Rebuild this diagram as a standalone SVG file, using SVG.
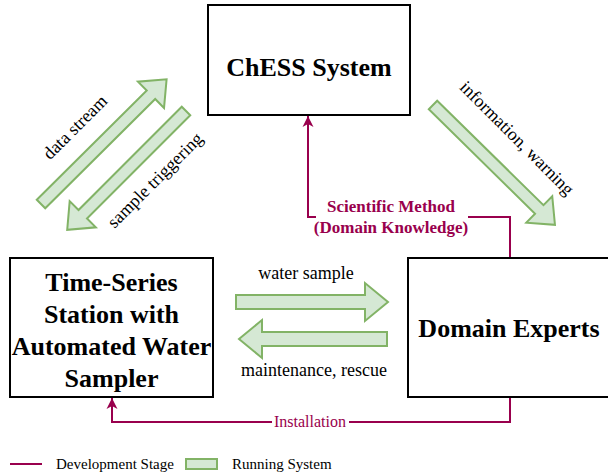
<svg xmlns="http://www.w3.org/2000/svg" width="608" height="476" viewBox="0 0 608 476">
<style>
.box{fill:#fff;stroke:#000;stroke-width:2}
.t{font-family:"Liberation Serif","Times New Roman",serif;fill:#000}
.b{font-weight:bold;font-size:26px;text-anchor:middle}
.lab{font-size:18px}
.pl{fill:none;stroke:#99004d;stroke-width:2}
.pt{font-family:"Liberation Serif","Times New Roman",serif;fill:#99004d;text-anchor:middle}
.ga{fill:#d5e8d4;stroke:#82b366;stroke-width:2;stroke-linejoin:miter}
</style>
<defs>
<marker id="ah" markerUnits="userSpaceOnUse" markerWidth="12" markerHeight="12" viewBox="0 0 12 12" refX="11" refY="6" orient="auto">
<path d="M0,0.5 L11,6 L0,11.5 L3,6 z" fill="#99004d"/>
</marker>
</defs>
<rect width="608" height="476" fill="#fff"/>

<g id="connectors">
<g id="dev-scientific">
<path class="pl" d="M510,258 V217 H308 V116" marker-end="url(#ah)"/>
<rect x="316" y="195" width="152" height="42" fill="#fff"/>
<text class="pt" x="391" y="212" font-size="17" font-weight="bold">Scientific Method</text>
<text class="pt" x="391" y="233" font-size="17" font-weight="bold">(Domain Knowledge)</text>
</g>
<g id="dev-installation">
<path class="pl" d="M510,397 V422 H112 V398" marker-end="url(#ah)"/>
<rect x="272" y="412" width="77" height="20" fill="#fff"/>
<text class="pt" x="310" y="427" font-size="16">Installation</text>
</g>
<g id="run-water-sample">
<polygon class="ga" points="236,295 365,295 365,283 388,302 365,321 365,309 236,309"/>
<text class="t lab" x="306" y="279" text-anchor="middle">water sample</text>
</g>
<g id="run-maintenance">
<polygon class="ga" points="387,332 262,332 262,320 239,339 262,358 262,346 387,346"/>
<text class="t lab" x="314" y="376" text-anchor="middle">maintenance, rescue</text>
</g>
<g id="run-data-stream">
<polygon class="ga" transform="translate(41,204) rotate(-44.8)" points="0,-6 155,-6 155,-18.5 177,0 155,18.5 155,6 0,6"/>
<text class="t lab" transform="translate(75,127) rotate(-45)" x="0" y="6" text-anchor="middle">data stream</text>
</g>
<g id="run-sample-triggering">
<polygon class="ga" transform="translate(186,111) rotate(135)" points="0,-6 146,-6 146,-18.5 168,0 146,18.5 146,6 0,6"/>
<text class="t lab" transform="translate(155,180) rotate(-45)" x="0" y="6" text-anchor="middle">sample triggering</text>
</g>
<g id="run-information">
<polygon class="ga" transform="translate(433,105) rotate(44.5)" points="0,-6 149,-6 149,-18.5 171,0 149,18.5 149,6 0,6"/>
<text class="t lab" transform="translate(517,138) rotate(45)" x="0" y="6" text-anchor="middle">information, warning</text>
</g>
</g>

<g id="chess">
<rect class="box" x="208" y="5" width="202" height="110"/>
<text class="t b" x="309" y="76">ChESS System</text>
</g>
<g id="station">
<rect class="box" x="10" y="258" width="203" height="139"/>
<text class="t b" x="111.5" y="291">Time-Series</text>
<text class="t b" x="111.5" y="323">Station with</text>
<text class="t b" x="111.5" y="355">Automated Water</text>
<text class="t b" x="111.5" y="387">Sampler</text>
</g>
<g id="experts">
<rect class="box" x="408" y="258" width="203" height="139"/>
<text class="t b" x="509" y="337">Domain Experts</text>
</g>

<g id="legend">
<line x1="10" y1="464" x2="42" y2="464" stroke="#99004d" stroke-width="2"/>
<text class="t" x="56" y="469" font-size="15">Development Stage</text>
<rect x="186" y="459" width="31" height="10" fill="#d5e8d4" stroke="#82b366" stroke-width="2"/>
<text class="t" x="232" y="469" font-size="15">Running System</text>
</g>
</svg>
